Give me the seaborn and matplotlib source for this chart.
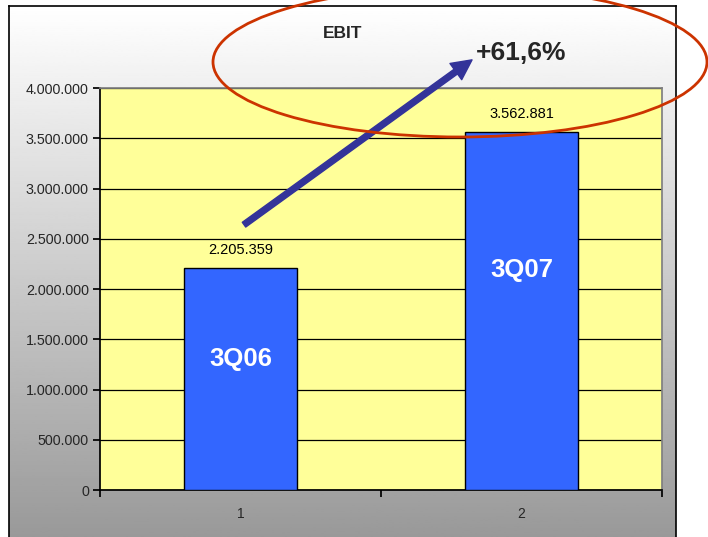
import matplotlib

matplotlib.use("Agg")

import matplotlib.pyplot as plt
import numpy as np
import pandas as pd
import seaborn as sns
from matplotlib.patches import Ellipse
from matplotlib.ticker import FuncFormatter

categories = ["1", "2"]
quarters = ["3Q06", "3Q07"]
ebit_values = [2205359, 3562881]
y_ticks = [0, 500000, 1000000, 1500000, 2000000, 2500000, 3000000, 3500000, 4000000]
growth_label = "+61,6%"
title_text = "EBIT"


def dot_thousands(value: float, _pos=None) -> str:
    return f"{int(round(value)):,}".replace(",", ".")


sns.set_theme(style="white")
plt.rcParams["font.family"] = ["Liberation Sans", "DejaVu Sans"]

W, H = 708, 537
fig = plt.figure(figsize=(W / 100, H / 100), dpi=100)
fig.patch.set_facecolor("white")

# gradient background inside the chart frame
bg = fig.add_axes([9 / W, 0, (676 - 9) / W, 1 - 6 / H], zorder=0)
gradient = np.linspace(1.0, 0.6, 256).reshape(-1, 1)
bg.imshow(gradient, aspect="auto", cmap="gray", vmin=0, vmax=1, extent=[0, 1, 0, 1])
bg.set_xticks([])
bg.set_yticks([])
for side in ["left", "top", "right"]:
    bg.spines[side].set_color("black")
    bg.spines[side].set_linewidth(1.2)
bg.spines["bottom"].set_visible(False)

ax = fig.add_axes([100 / W, 1 - 490 / H, (662 - 100) / W, (490 - 88) / H], zorder=1)
df = pd.DataFrame({"cat": categories, "value": ebit_values})
sns.barplot(data=df, x="cat", y="value", color="#3366ff", width=0.4,
            edgecolor="black", linewidth=1.0, saturation=1, ax=ax, zorder=3)
ax.set_facecolor("#ffff99")
ax.set_ylim(0, 4000000)
ax.set_xlim(-0.5, 1.5)
ax.set_yticks(y_ticks)
ax.yaxis.set_major_formatter(FuncFormatter(dot_thousands))
ax.grid(axis="y", color="black", linewidth=0.9, zorder=1)
ax.set_axisbelow(True)
ax.set_xlabel("")
ax.set_ylabel("")
ax.set_xticks([-0.5, 0.5, 1.5], minor=False)
ax.set_xticklabels(["", "", ""])
ax.set_xticks([0, 1], minor=True)
ax.set_xticklabels(categories, minor=True)
ax.tick_params(axis="x", which="major", direction="out", length=5, color="black", bottom=True)
ax.tick_params(axis="x", which="minor", length=0, pad=12, labelsize=10)
ax.tick_params(axis="y", direction="out", length=5, color="black", left=True, labelsize=10.3, pad=3)
for side in ["top", "right"]:
    ax.spines[side].set_color("#808080")
ax.spines["left"].set_color("black")
ax.spines["bottom"].set_color("black")

for i, v in enumerate(ebit_values):
    ax.text(i, v + 110000, dot_thousands(v), ha="center", va="bottom", fontsize=10.5, color="black")
label_y = [1300000, 2190000]
for i, q in enumerate(quarters):
    ax.text(i, label_y[i], q, ha="center", va="center", fontsize=18.5, fontweight="bold", color="white")

ax.annotate("", xy=(0.824, 4280000), xytext=(0.0125, 2640000),
            arrowprops=dict(arrowstyle="simple,head_length=1.2,head_width=1.2,tail_width=0.35",
                            color="#333399", shrinkA=0, shrinkB=0),
            annotation_clip=False, zorder=5)

fig.text(343 / W, 1 - 33 / H, title_text, ha="center", va="center", fontsize=12.5, fontweight="bold")
fig.text(521 / W, 1 - 53 / H, growth_label, ha="center", va="center", fontsize=19, fontweight="bold")

ellipse = Ellipse((460, H - 62), 494, 150, transform=None, fill=False,
                  edgecolor="#cc3300", linewidth=2.0, zorder=10)
fig.patches.append(ellipse)

fig.savefig("out.png", dpi=100)
